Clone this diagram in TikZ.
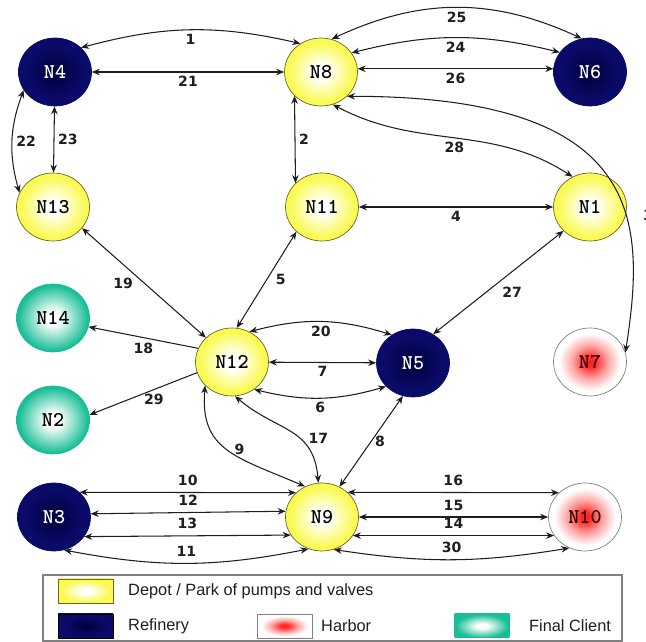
\documentclass[tikz,border=0pt]{standalone}
\usepackage{fontspec}
\setmainfont{Liberation Sans}
\newfontfamily\numfont{DejaVu Sans}
\usetikzlibrary{shapes.geometric, arrows.meta, positioning}

\definecolor{depotyellow}{RGB}{250,250,85}
\definecolor{depotline}{RGB}{110,100,35}
\definecolor{refnavy}{RGB}{10,10,105}
\definecolor{refdark}{RGB}{0,0,60}
\definecolor{harbred}{RGB}{255,25,25}
\definecolor{clientteal}{RGB}{25,190,150}
\definecolor{txt}{RGB}{30,30,30}

\pgfdeclareradialshading{depotshade}{\pgfpoint{0bp}{0bp}}{color(0bp)=(white); color(5bp)=(white); color(22bp)=(depotyellow); color(50bp)=(depotyellow)}
\pgfdeclareradialshading{refshade}{\pgfpoint{0bp}{0bp}}{color(0bp)=(refdark); color(20bp)=(refnavy); color(50bp)=(refnavy)}
\pgfdeclareradialshading{harbshade}{\pgfpoint{0bp}{0bp}}{color(0bp)=(harbred); color(4bp)=(harbred!90!white); color(12bp)=(harbred!40!white); color(21bp)=(white); color(50bp)=(white)}
\pgfdeclareradialshading{clientshade}{\pgfpoint{0bp}{0bp}}{color(0bp)=(white); color(5bp)=(white); color(24bp)=(clientteal); color(50bp)=(clientteal)}

\begin{document}
\begin{tikzpicture}[x=0.02cm, y=0.02cm,
    n/.style={ellipse, minimum width=1.46cm, minimum height=1.36cm, inner sep=0pt, font=\ttfamily\bfseries\fontsize{12}{12}\selectfont},
    dep/.style={n, draw=depotline, shading=depotshade, text=black},
    refn/.style={n, draw=refnavy, shading=refshade, text=white},
    hrb/.style={n, draw=gray, shading=harbshade, text=black!80!red},
    cli/.style={n, draw=clientteal, shading=clientshade, text=black},
    a/.style={{Stealth[length=1.6mm, width=1.3mm]}-{Stealth[length=1.6mm, width=1.3mm]}, line width=0.6pt, txt},
    o/.style={-{Stealth[length=1.6mm, width=1.3mm]}, line width=0.6pt, txt},
    lbl/.style={font=\numfont\bfseries\fontsize{8}{9}\selectfont, inner sep=2pt, text=txt},
    sw/.style={rectangle, minimum width=1.1cm, minimum height=0.48cm, inner sep=0pt},
    key/.style={anchor=west, font=\fontsize{9.3}{11}\selectfont, text=txt},
]
\useasboundingbox (0,0) rectangle (646,642);

% sites
\node[refn] (N4) at (55,570) {N4};
\node[dep] (N8) at (321,570) {N8};
\node[refn] (N6) at (590,570) {N6};
\node[dep] (N13) at (53,435) {N13};
\node[dep] (N11) at (322,435) {N11};
\node[dep] (N1) at (590,435) {N1};
\node[cli] (N14) at (53,324) {N14};
\node[dep] (N12) at (232,280) {N12};
\node[refn] (N5) at (413,279) {N5};
\node[hrb] (N7) at (590,280) {N7};
\node[cli] (N2) at (53,222) {N2};
\node[refn] (N3) at (54,125) {N3};
\node[dep] (N9) at (322,125) {N9};
\node[hrb] (N10) at (585,125) {N10};

% top
\draw[a] (N4.43) to[bend left=14] node[lbl, below] {1} (N8.126);
\draw[a] (N4) -- node[lbl, below] {21} (N8);
\draw[a] (N8.72) to[bend left=25] node[lbl, below] {25} (N6.104);
\draw[a] (N8.32) to[bend left=14] node[lbl, below] {24} (N6.147);
\draw[a] (N8.5) -- node[lbl, below] {26} (N6.175);
\draw[a] (N8.317) .. controls +(300,0) and +(20,130) .. (N7.15);
\node[lbl, anchor=west, inner sep=0pt] (l3) at (643,427) {3};
\draw[a] (N4.210) to[bend right=18] node[lbl, right] {22} (N13.157);
\draw[a] (N4) -- node[lbl, right] {23} (N13);
\draw[a] (N8.222) -- node[lbl, right] {2} (N11.138);
\draw[a] (N8.290) to[out=-28, in=147] node[lbl, below] {28} (N1.120);
\draw[a] (N11) -- node[lbl, below] {4} (N1);

% middle
\draw[a] (N1.222) -- node[lbl, below right] {27} (N5.55);
\draw[a] (N11.224) -- node[lbl, right=3pt] {5} (N12.82);
\draw[a] (N13.324) -- node[lbl, left=4pt] {19} (N12.137);
\draw[o] (N12.158) -- node[lbl, below=1pt] {18} (N14.346);
\draw[o] (N12.197) -- node[lbl, pos=0.4, below] {29} (N2.8);
\draw[a] (N12.60) to[bend left=16] node[lbl, below] {20} (N5.127);
\draw[a] (N12) -- node[lbl, below] {7} (N5);
\draw[a] (N12.309) to[bend right=15] node[lbl, below] {6} (N5.221);
\draw[a] (N12.221) .. controls +(-5,-65) and +(-70,30) .. (N9.119) node[lbl, midway, right=2pt] {9};
\draw[a] (N12.275) to[out=-40, in=95, looseness=1.2] node[lbl, pos=0.6, right=3pt] {17} (N9.96);
\draw[a] (N5.253) -- node[lbl, right] {8} (N9.60);

% bottom
\draw[a] (N3.44) -- node[lbl, above=1.5pt] {10} (N9.137);
\draw[a] (N3.5) -- node[lbl, above=1.5pt] {12} (N9.171);
\draw[a] (N3.327) -- node[lbl, above=1.5pt] {13} (N9.210);
\draw[a] (N3.287) to[bend right=11] node[lbl, above=1.5pt] {11} (N9.247);
\draw[a] (N9.44) -- node[lbl, above=1.5pt] {16} (N10.137);
\draw[a] (N9) -- node[lbl, above=1.5pt] {15} (N10);
\draw[a] (N9.329) -- node[lbl, above=1.5pt] {14} (N10.211);
\draw[a] (N9.290) to[bend right=9] node[lbl, above=1.5pt] {30} (N10.243);

% legend
\draw[gray, line width=0.6pt] (43,1) rectangle (622,67);
\node[sw, draw=depotline, shading=depotshade] (kdep) at (85.5,51) {};
\node[key] (tdep) at (122,51) {Depot / Park of pumps and valves};
\node[sw, draw=black, shading=refshade] (kref) at (85.5,16) {};
\node[key] (tref) at (122,16) {Refinery};
\node[sw, draw=gray, shading=harbshade] (khrb) at (284.5,16) {};
\node[key] (thrb) at (315,16) {Harbor};
\node[sw, shading=clientshade] (kcli) at (482,16) {};
\node[key] (tcli) at (523,16) {Final Client};
\end{tikzpicture}
\end{document}
